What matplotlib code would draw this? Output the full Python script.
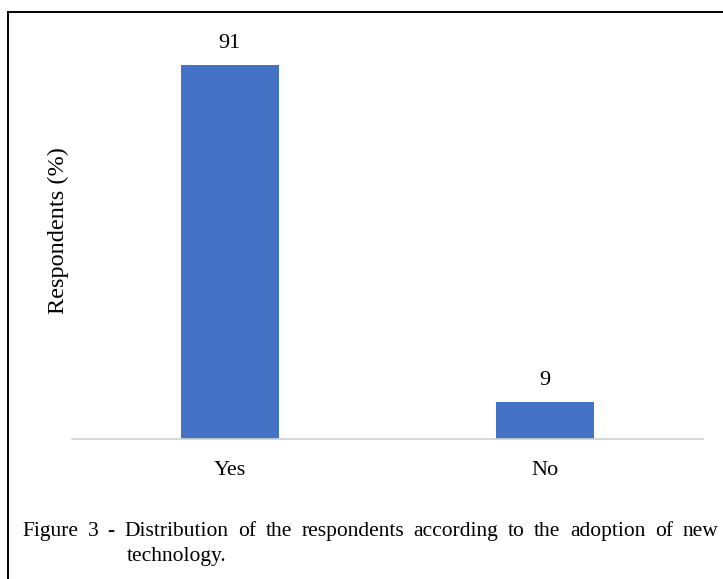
import matplotlib
matplotlib.use("Agg")
import matplotlib.pyplot as plt
from matplotlib.patches import Rectangle

# chart data
categories = ["Yes", "No"]
respondents = [91, 9]
caption_line1 = "Figure 3 - Distribution of the respondents according to the adoption of new"
caption_line2 = "technology."

plt.rcParams['font.family'] = ['Liberation Serif', 'DejaVu Serif']

W, H = 723, 579
fig = plt.figure(figsize=(W / 100, H / 100), dpi=100)

# axes placed in pixel terms: x 72..703, baseline at y=439
ax = fig.add_axes([72 / W, 1 - 439 / H, (703 - 72) / W, (439 - 28) / H])
x = list(range(len(categories)))
bars = ax.bar(x, respondents, width=0.31, color='#4472C4')
ax.set_xlim(-0.5, 1.5)
ax.set_ylim(0, 100)

for rect, v in zip(bars, respondents):
    ax.text(rect.get_x() + rect.get_width() / 2, v + 3, str(v),
            ha='center', va='bottom', fontsize=16)

ax.set_xticks(x)
ax.set_xticklabels(categories, fontsize=16)
ax.tick_params(axis='x', length=0, pad=16)
ax.set_yticks([])
for s in ['top', 'right', 'left']:
    ax.spines[s].set_visible(False)
ax.spines['bottom'].set_color('#d0d0d0')
ax.spines['bottom'].set_linewidth(1.2)

fig.text(58 / W, 1 - 231 / H, "Respondents (%)", rotation=90,
         ha='center', va='center', fontsize=17.5)

# outer frame (open at right and bottom, as in the cropped source)
fig.patches.append(Rectangle((7.5 / W, -0.1), 1.2, 1 - 12.5 / H + 0.1,
                             transform=fig.transFigure, fill=False,
                             edgecolor='black', linewidth=1.4))

# justified caption, first line spans x 22..718
fig.canvas.draw()
renderer = fig.canvas.get_renderer()
words = caption_line1.split(" ")
texts = [fig.text(0, 1 - 536 / H, w, fontsize=15.5, va='baseline', ha='left') for w in words]
widths = [t.get_window_extent(renderer).width for t in texts]
left, right = 22, 718
gap = (right - left - sum(widths)) / (len(words) - 1)
pos = left
for t, w in zip(texts, widths):
    t.set_x(pos / W)
    pos += w + gap
fig.text(127 / W, 1 - 561 / H, caption_line2, fontsize=15.5, va='baseline', ha='left')

fig.savefig("out.png", dpi=100)
